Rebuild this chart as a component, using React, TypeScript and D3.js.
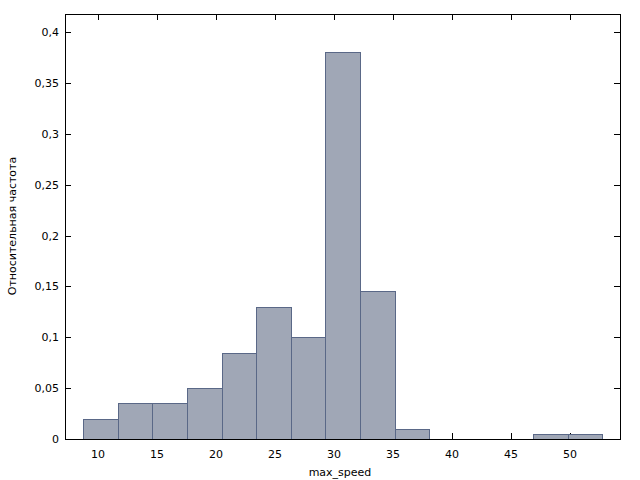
import React from "react";
import * as d3 from "d3";

const binStart = 8.754;
const binWidth = 2.932;
const frequencies = [0.02, 0.035, 0.035, 0.05, 0.085, 0.13, 0.1, 0.38, 0.145, 0.01, 0, 0, 0, 0.005, 0.005];
const xTicks = [10, 15, 20, 25, 30, 35, 40, 45, 50];
const yTicks = [0, 0.05, 0.1, 0.15, 0.2, 0.25, 0.3, 0.35, 0.4];
const xTitle = "max_speed";
const yTitle = "Относительная частота";

const W = 640, H = 480;
const L = 65, R = 620, T = 14, B = 439;

export default function App() {
  const x = d3.scaleLinear().domain([7.2034, 54.237]).range([L, R]);
  const y = d3.scaleLinear().domain([0, 0.4]).range([B, 32]);
  const fmt = (v: number) => String(+v.toFixed(2)).replace(".", ",");
  const font = "'DejaVu Sans', Verdana, sans-serif";
  const bins = frequencies.map((f, i) => ({ x0: binStart + i * binWidth, x1: binStart + (i + 1) * binWidth, f }));
  return (
    <svg width={W} height={H} style={{ position: "absolute", left: 0, top: 0, background: "#fff" }} fontFamily={font} fontSize={11}>
      <rect x={0} y={0} width={W} height={H} fill="#fff" />
      {yTicks.map((t) => (
        <g key={"y" + t}>
          <line x1={L} x2={L + 6} y1={Math.round(y(t)) + 0.5} y2={Math.round(y(t)) + 0.5} stroke="#000" />
          <line x1={R - 6} x2={R} y1={Math.round(y(t)) + 0.5} y2={Math.round(y(t)) + 0.5} stroke="#000" />
          <text x={59} y={y(t) + 4} textAnchor="end" fill="#000">{fmt(t)}</text>
        </g>
      ))}
      {xTicks.map((t) => (
        <g key={"x" + t}>
          <line x1={Math.round(x(t)) + 0.5} x2={Math.round(x(t)) + 0.5} y1={B} y2={B - 6} stroke="#000" />
          <line x1={Math.round(x(t)) + 0.5} x2={Math.round(x(t)) + 0.5} y1={T} y2={T + 6} stroke="#000" />
          <text x={x(t)} y={458} textAnchor="middle" fill="#000">{t}</text>
        </g>
      ))}
      {bins.filter((b) => b.f > 0).map((b, i) => (
        <rect key={i} x={Math.round(x(b.x0)) + 0.5} y={Math.round(y(b.f)) + 0.5}
          width={Math.round(x(b.x1)) - Math.round(x(b.x0))} height={Math.round(y(0)) - Math.round(y(b.f))}
          fill="#a0a7b6" stroke="#5a6887" strokeWidth={1} />
      ))}
      <rect x={L + 0.5} y={T + 0.5} width={R - L} height={B - T} fill="none" stroke="#000" strokeWidth={1} />
      <text x={340} y={476} textAnchor="middle" fill="#000">{xTitle}</text>
      <text transform={`translate(16,226) rotate(-90)`} textAnchor="middle" fill="#000">{yTitle}</text>
    </svg>
  );
}
